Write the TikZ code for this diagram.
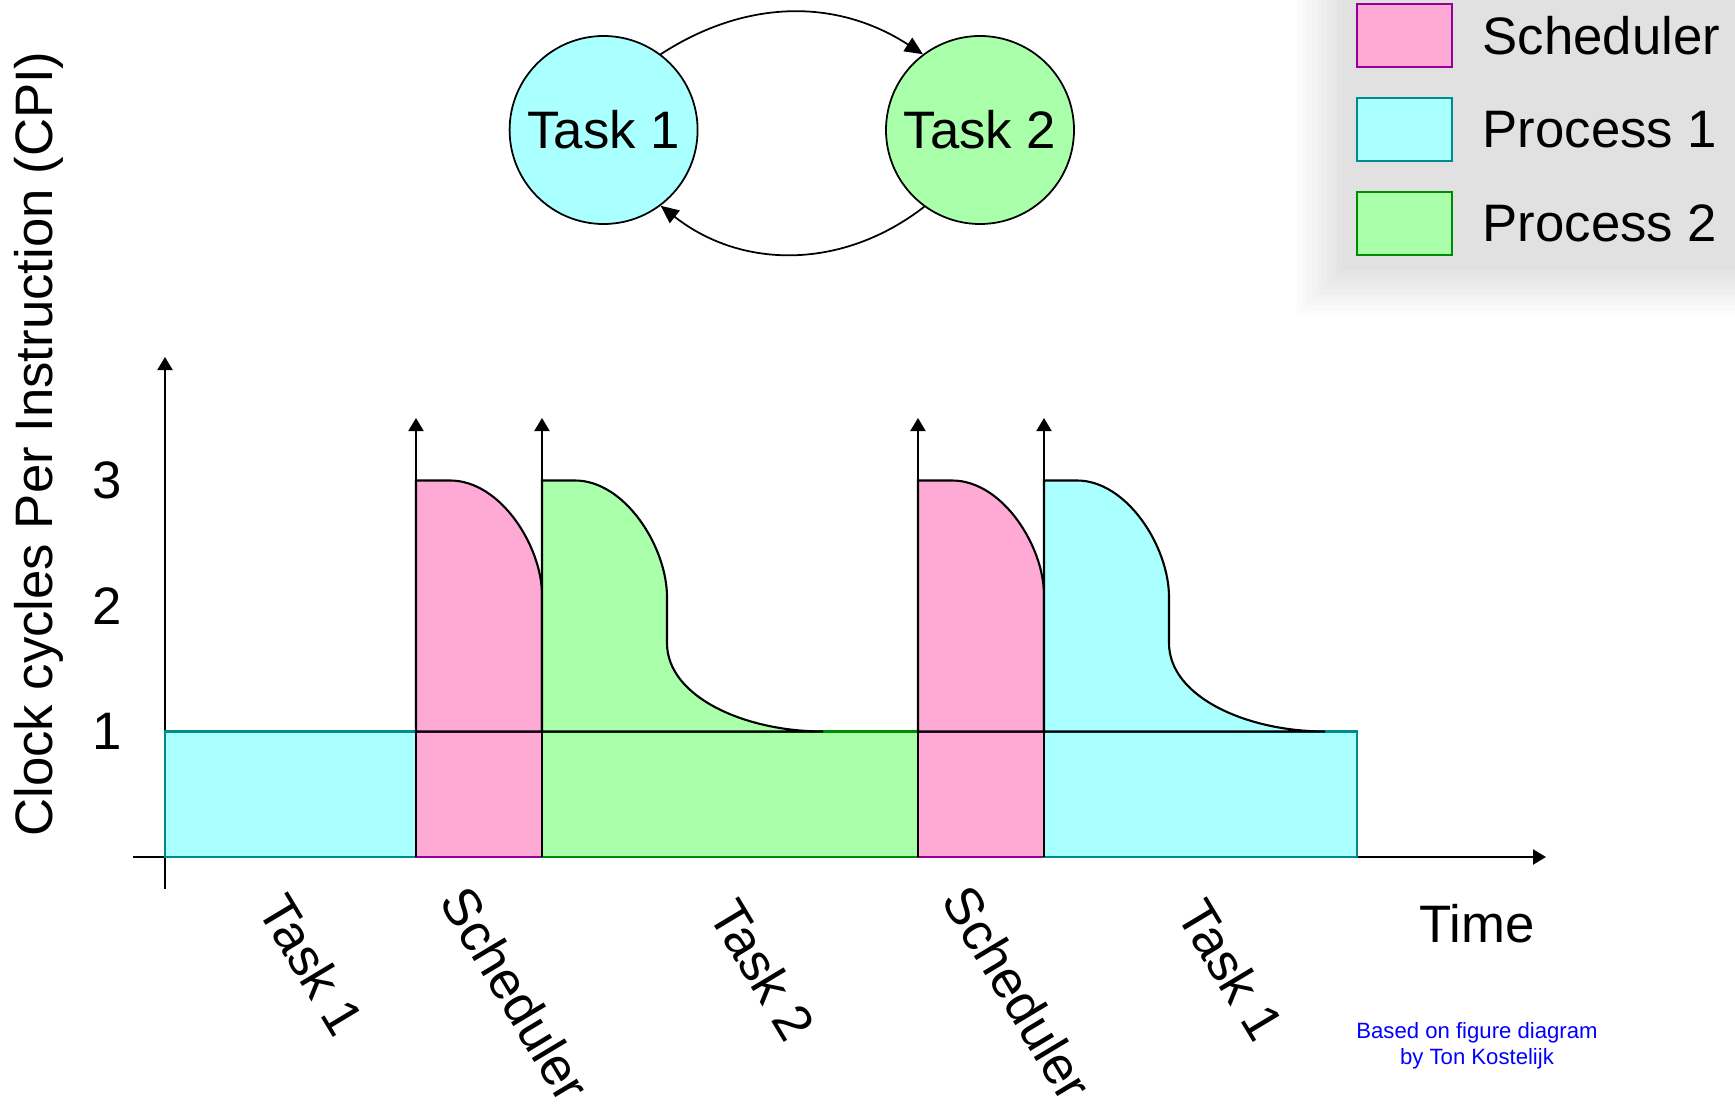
\documentclass[tikz,border=0pt]{standalone}
\usepackage{fontspec}
\setmainfont{Liberation Sans}
\usepackage{tikz}
\usetikzlibrary{arrows.meta, positioning}
\usepackage{xcolor}

\definecolor{schedfill}{HTML}{FFAAD4}
\definecolor{schededge}{HTML}{960096}
\definecolor{proconefill}{HTML}{AAFFFF}
\definecolor{proconeedge}{HTML}{008C8C}
\definecolor{proctwofill}{HTML}{AAFFAA}
\definecolor{proctwoedge}{HTML}{008C00}

\begin{document}
\begin{tikzpicture}[font=\fontsize{15}{18}\selectfont, line width=0.6pt,
    tip/.style={-{Triangle[length=1.3mm,width=1.5mm]}},
    flow/.style={-{Triangle[length=1.8mm,width=1.6mm]}, line width=0.5pt},
    task/.style={circle, draw, line width=0.5pt, minimum size=1.88cm, inner sep=0pt},
    swatch/.style={draw, line width=0.5pt, minimum width=0.95cm, minimum height=0.63cm, inner sep=0pt},
    seg/.style={rotate=-59}]
    \useasboundingbox (-1.65,-2.48) rectangle (15.70,8.57);
    % Legenda
    \foreach \i in {0,...,9}
        \fill[black, opacity=0.01] ({11.32+0.05*\i},{5.42+0.05*\i}) rectangle (15.70,8.57);
    \node[swatch, fill=schedfill, draw=schededge] (keyS) at (12.395,8.215) {};
    \node[swatch, fill=proconefill, draw=proconeedge] (keyA) at (12.395,7.275) {};
    \node[swatch, fill=proctwofill, draw=proctwoedge] (keyB) at (12.395,6.335) {};
    \node[right=0.17cm of keyS] (txtS) {Scheduler};
    \node[right=0.17cm of keyA] (txtA) {Process 1};
    \node[right=0.17cm of keyB] (txtB) {Process 2};
    % Tarefas
    \node[task, fill=proconefill] (t1) at (4.386,7.27) {Task 1};
    \node[task, fill=proctwofill] (t2) at (8.15,7.27) {Task 2};
    \draw[flow] (t1.53) to[bend left=33] (t2.127);
    \draw[flow] (t2.234) to[bend left=38] (t1.-53);
    % Eixos
    \draw[tip] (-0.32,0) -- (13.81,0);
    \draw[tip] (0,-0.315) -- (0,5.00);
    \foreach \v in {1,2,3}
        \node (cpi\v) at (-0.58,{1.255*\v}) {\v};
    \node[rotate=90] (ylab) at (-1.26,4.13) {Clock cycles Per Instruction (CPI)};
    \node (time) at (13.12,-0.67) {Time};
    % Base (CPI = 1)
    \filldraw[fill=proconefill, draw=proconeedge] (0,0) rectangle (2.51,1.255);
    \filldraw[fill=schedfill, draw=schededge] (2.51,0) rectangle (3.77,1.255);
    \filldraw[fill=proctwofill, draw=proctwoedge] (3.77,0) rectangle (7.53,1.255);
    \filldraw[fill=schedfill, draw=schededge] (7.53,0) rectangle (8.79,1.255);
    \filldraw[fill=proconefill, draw=proconeedge] (8.79,0) rectangle (11.92,1.255);
    % Picos
    \filldraw[fill=schedfill] (2.51,1.255) -- (2.51,3.765) -- (2.85,3.765)
        .. controls (3.36,3.765) and (3.77,3.1) .. (3.77,2.62) -- (3.77,1.255) -- cycle;
    \filldraw[fill=proctwofill] (3.77,1.255) -- (3.77,3.765) -- (4.10,3.765)
        .. controls (4.60,3.765) and (5.02,3.1) .. (5.02,2.60) -- (5.02,2.14)
        .. controls (5.02,1.6) and (5.8,1.255) .. (6.58,1.255) -- cycle;
    \filldraw[fill=schedfill] (7.53,1.255) -- (7.53,3.765) -- (7.87,3.765)
        .. controls (8.38,3.765) and (8.79,3.1) .. (8.79,2.62) -- (8.79,1.255) -- cycle;
    \filldraw[fill=proconefill] (8.79,1.255) -- (8.79,3.765) -- (9.12,3.765)
        .. controls (9.62,3.765) and (10.04,3.1) .. (10.04,2.60) -- (10.04,2.14)
        .. controls (10.04,1.6) and (10.82,1.255) .. (11.60,1.255) -- cycle;
    % Setas
    \foreach \x in {2.51,3.77,7.53,8.79}
        \draw[tip] (\x,0) -- (\x,4.39);
    % Fases
    \node[seg] (segA) at (1.47,-1.08) {Task 1};
    \node[seg] (segB) at (3.51,-1.37) {Scheduler};
    \node[seg] (segC) at (5.98,-1.13) {Task 2};
    \node[seg] (segD) at (8.53,-1.36) {Scheduler};
    \node[seg] (segE) at (10.66,-1.13) {Task 1};
    % Credito
    \node[blue, font=\fontsize{6.3}{7.4}\selectfont, align=center] (credit) at (13.12,-1.89)
        {Based on figure diagram\\by Ton Kostelijk};
\end{tikzpicture}
\end{document}
